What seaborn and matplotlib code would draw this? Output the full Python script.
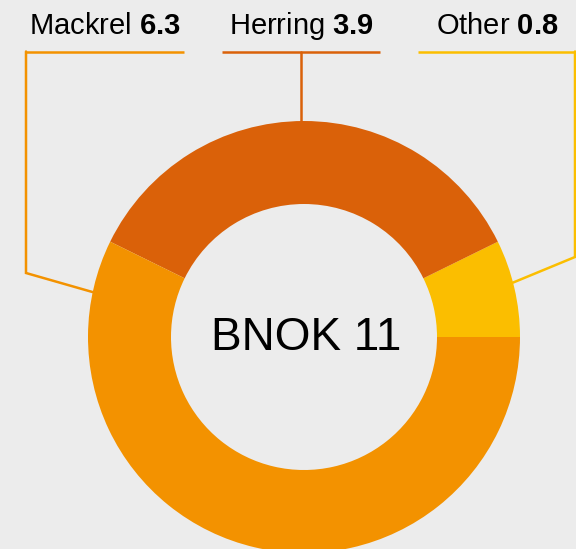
import numpy as np
import matplotlib
matplotlib.use("Agg")
import matplotlib.pyplot as plt
import seaborn as sns

# Catch composition (values shown in the labels)
species = ["Other", "Herring", "Mackrel"]
catch = [0.8, 3.9, 6.3]
total_label = "BNOK 11"
slice_colors = ["#fbbe00", "#da6109", "#f39200"]

BG = "#ececec"

sns.set_theme(style="white", rc={"figure.facecolor": BG, "axes.facecolor": BG})
plt.rcParams["font.family"] = ["Liberation Sans", "DejaVu Sans"]
plt.rcParams["mathtext.fontset"] = "custom"
plt.rcParams["mathtext.rm"] = "Liberation Sans"
plt.rcParams["mathtext.bf"] = "Liberation Sans:bold"

W, H = 576, 549
fig = plt.figure(figsize=(W / 100, H / 100), dpi=100)
ax = fig.add_axes([0, 0, 1, 1])

cx, cy = 304, H - 337
R, r_in = 216, 133
palette = sns.color_palette(slice_colors)

ax.pie(catch, colors=palette, startangle=0, counterclock=True,
       center=(cx, cy), radius=R,
       wedgeprops=dict(width=R - r_in, linewidth=0))

ax.set_xlim(0, W)
ax.set_ylim(0, H)
ax.set_aspect("equal")
ax.axis("off")

ax.text(306, H - 350, total_label, ha="center", va="baseline",
        fontsize=33, color="black")

# Label blocks: header text, underline, and leader to the ring
fracs = np.array(catch) / sum(catch)
edges = np.concatenate([[0], np.cumsum(fracs)]) * 360
mid = dict(zip(species, (edges[:-1] + edges[1:]) / 2))

def ring_point(angle_deg):
    a = np.deg2rad(angle_deg)
    return cx + R * np.cos(a), cy + R * np.sin(a)

line_y = H - 51.5
lw = 1.8
labels = {
    "Mackrel": dict(x0=25, x1=184, value=6.3, color=slice_colors[2]),
    "Herring": dict(x0=222, x1=380, value=3.9, color=slice_colors[1]),
    "Other": dict(x0=418, x1=576, value=0.8, color=slice_colors[0]),
}
for name, spec in labels.items():
    xc = (spec["x0"] + spec["x1"]) / 2
    ax.text(xc, H - 34, f"{name} $\\mathbf{{{spec['value']}}}$",
            ha="center", va="baseline", fontsize=21, color="black")
    ax.plot([spec["x0"], spec["x1"]], [line_y, line_y],
            color=spec["color"], lw=lw, solid_capstyle="butt")

# Mackrel leader: down the left side, then into the ring
mx, my = ring_point(168)
ax.plot([26, 26, mx], [line_y, H - 273, my], color=slice_colors[2], lw=lw,
        solid_joinstyle="miter")
# Herring leader: straight down to the top of the ring
hx, hy = ring_point(mid["Herring"])
ax.plot([301, 301], [line_y, hy], color=slice_colors[1], lw=lw)
# Other leader: down the right edge, then into the ring
ox, oy = ring_point(mid["Other"] + 1.5)
ax.plot([575, 575, ox], [line_y, H - 257, oy], color=slice_colors[0], lw=lw,
        solid_joinstyle="miter")

fig.savefig("out.png", dpi=100, facecolor=BG)
